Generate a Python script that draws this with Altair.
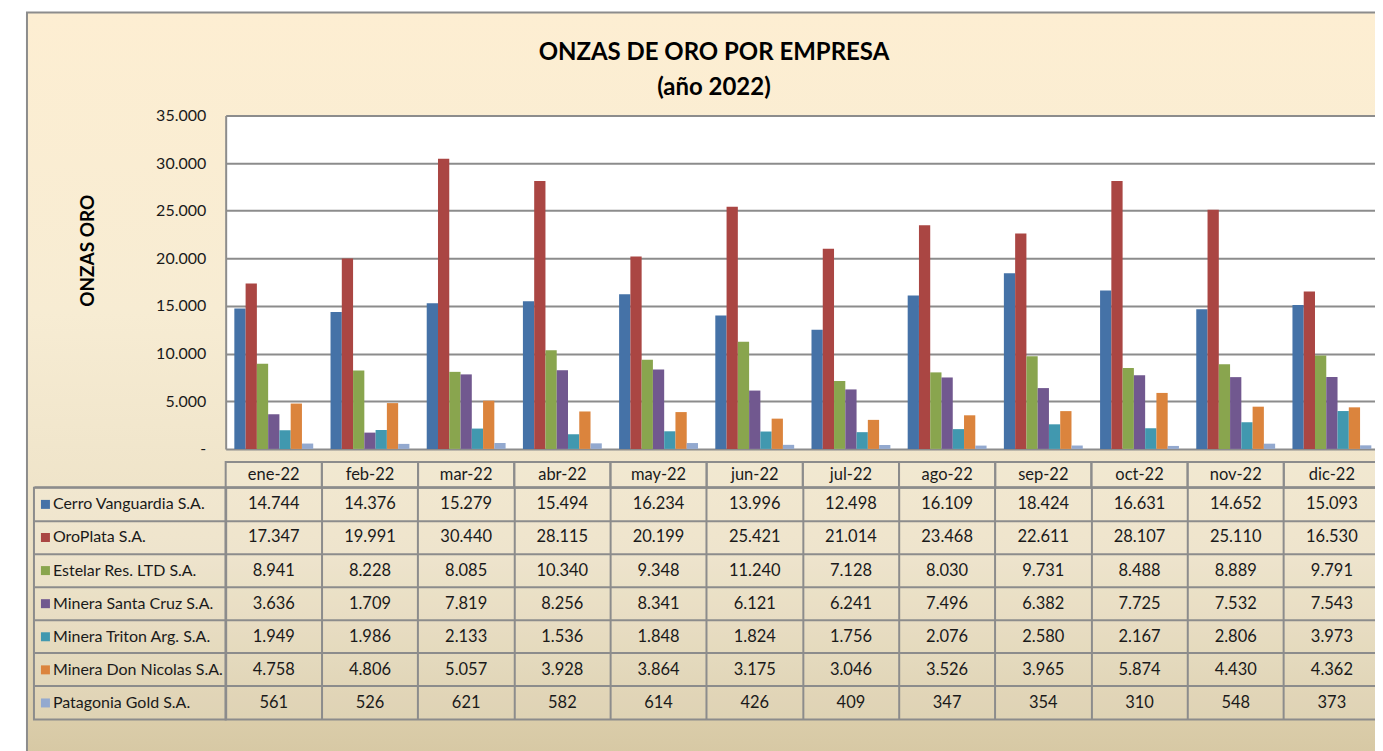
import altair as alt
import pandas as pd

months = ["ene-22", "feb-22", "mar-22", "abr-22", "may-22", "jun-22",
          "jul-22", "ago-22", "sep-22", "oct-22", "nov-22", "dic-22"]
companies = ["Cerro Vanguardia S.A.", "OroPlata S.A.", "Estelar Res. LTD S.A.",
             "Minera Santa Cruz S.A.", "Minera Triton Arg. S.A.",
             "Minera Don Nicolas S.A.", "Patagonia Gold S.A."]
cerro_vanguardia = [14744, 14376, 15279, 15494, 16234, 13996, 12498, 16109, 18424, 16631, 14652, 15093]
oroplata = [17347, 19991, 30440, 28115, 20199, 25421, 21014, 23468, 22611, 28107, 25110, 16530]
estelar = [8941, 8228, 8085, 10340, 9348, 11240, 7128, 8030, 9731, 8488, 8889, 9791]
santa_cruz = [3636, 1709, 7819, 8256, 8341, 6121, 6241, 7496, 6382, 7725, 7532, 7543]
triton = [1949, 1986, 2133, 1536, 1848, 1824, 1756, 2076, 2580, 2167, 2806, 3973]
don_nicolas = [4758, 4806, 5057, 3928, 3864, 3175, 3046, 3526, 3965, 5874, 4430, 4362]
patagonia = [561, 526, 621, 582, 614, 426, 409, 347, 354, 310, 548, 373]
y_ticks = [0, 5000, 10000, 15000, 20000, 25000, 30000, 35000]
colors = ["#4572A7", "#AA4643", "#89A54E", "#71588F", "#4198AF", "#DB843D", "#93A9CF"]

series = [cerro_vanguardia, oroplata, estelar, santa_cruz, triton, don_nicolas, patagonia]
rows = []
for comp, vals in zip(companies, series):
    for m, v in zip(months, vals):
        rows.append({"company": comp, "month": m, "value": v,
                     "label": f"{v:,}".replace(",", ".")})
df = pd.DataFrame(rows)
df_comp = pd.DataFrame({"company": companies})
df_month = pd.DataFrame({"month": months})

FONT = "Lato"
GRID = "#8c8c8c"
TXT = "#1a1a1a"
W_LEFT = 192
W_PLOT = 1156
H_PLOT = 334
H_HDR = 39
H_TBL = 232

color_enc = alt.Color("company:N", sort=companies,
                      scale=alt.Scale(domain=companies, range=colors), legend=None)
no_view = alt.ViewBackground(stroke="transparent")

# background frame (decoration)
gradient = alt.LinearGradient(
    gradient="linear", x1=0, x2=0, y1=0, y2=1,
    stops=[alt.GradientStop(color="#fdeed2", offset=0),
           alt.GradientStop(color="#f7ecd3", offset=0.4),
           alt.GradientStop(color="#ece1c6", offset=0.72),
           alt.GradientStop(color="#d8caa6", offset=0.97),
           alt.GradientStop(color="#d6c7a2", offset=1)])
bg = alt.Chart(pd.DataFrame({"k": [0]})).mark_rect(
    fill=gradient, stroke="#8c8c8c", strokeWidth=2
).encode(
    x=alt.value(-7), x2=alt.value(1360), y=alt.value(-103), y2=alt.value(650)
).properties(width=W_LEFT, height=H_PLOT, view=no_view)

label_expr = ("datum.value == 0 ? '-\u00a0\u00a0\u00a0' : "
              "replace(format(datum.value, ','), ',', '.')")

bars = alt.Chart(df).mark_bar().encode(
    x=alt.X("month:N", sort=months,
            scale=alt.Scale(paddingInner=0.18, paddingOuter=0.09), axis=None),
    xOffset=alt.XOffset("company:N", sort=companies,
                        scale=alt.Scale(paddingInner=0, paddingOuter=0)),
    y=alt.Y("value:Q", scale=alt.Scale(domain=[0, 35000], nice=False),
            axis=alt.Axis(values=y_ticks, labelExpr=label_expr, grid=True,
                          gridColor=GRID, gridWidth=2, ticks=False, tickSize=0,
                          domain=True, domainColor=GRID, domainWidth=2,
                          labelPadding=20, labelFont=FONT, labelFontSize=16,
                          labelColor=TXT, title="ONZAS ORO", titleFont=FONT,
                          titleFontSize=19, titleFontWeight="bold", titleColor="black",
                          titleX=-138, titleY=135, titleAlign="center",
                          titleBaseline="middle", titleAngle=270)),
    color=color_enc,
).properties(
    width=W_PLOT, height=H_PLOT,
    view=alt.ViewBackground(fill="white", stroke="transparent"),
    title=alt.TitleParams(text=["ONZAS DE ORO POR EMPRESA", "(año 2022)"],
                          anchor="middle", frame="group", baseline="bottom",
                          offset=-17, fontSize=24, lineHeight=35, font=FONT,
                          fontWeight="bold", color="black", dx=-89),
)

band = alt.Scale(type="band", paddingInner=0, paddingOuter=0)
x_month = alt.X("month:N", sort=months, scale=band,
                axis=alt.Axis(bandPosition=0, grid=True, gridColor=GRID, gridWidth=2,
                              labels=False, ticks=False, domain=False, title=None))
y_comp = alt.Y("company:N", sort=companies, scale=band,
               axis=alt.Axis(bandPosition=0, grid=True, gridColor=GRID, gridWidth=2,
                             labels=False, ticks=False, domain=False, title=None))
cell_view = alt.ViewBackground(stroke=GRID, strokeWidth=2, fill="white", fillOpacity=0.12)

blank = alt.Chart(pd.DataFrame({"k": [0]})).mark_text().encode(
    text=alt.value("")
).properties(width=W_LEFT, height=H_HDR, view=no_view)

x_hdr = alt.X("month:N", sort=months, scale=band, axis=None)
hdr_cells = alt.Chart(df_month).mark_rect(
    fill="white", fillOpacity=0.12, stroke=GRID, strokeWidth=2
).encode(x=x_hdr, y=alt.value(13), y2=alt.value(39))
hdr_text = alt.Chart(df_month).mark_text(font=FONT, fontSize=16.5, color=TXT).encode(
    x=x_hdr, y=alt.value(26.5), text="month:N")
header = alt.layer(hdr_cells, hdr_text).properties(width=W_PLOT, height=H_HDR, view=no_view)

label_key = alt.Chart(df_comp).mark_square(size=81, opacity=1).encode(
    x=alt.value(11.5), y=y_comp, color=color_enc)
label_txt = alt.Chart(df_comp).mark_text(font=FONT, fontSize=16, color=TXT, align="left").encode(
    x=alt.value(19), y=y_comp, text="company:N")
labels = alt.layer(label_key, label_txt).properties(width=W_LEFT, height=H_TBL, view=cell_view)

table = alt.Chart(df).mark_text(font=FONT, fontSize=16.5, color=TXT).encode(
    x=x_month, y=y_comp, text="label:N"
).properties(width=W_PLOT, height=H_TBL, view=cell_view)

chart = alt.concat(bg, bars, blank, header, labels, table,
                   columns=2, spacing=0, bounds="flush").properties(
    padding={"left": 17, "top": 2, "right": -19, "bottom": -16},
    background="white",
)

chart.save("out.html", embed_options={"renderer": "svg", "actions": False})
